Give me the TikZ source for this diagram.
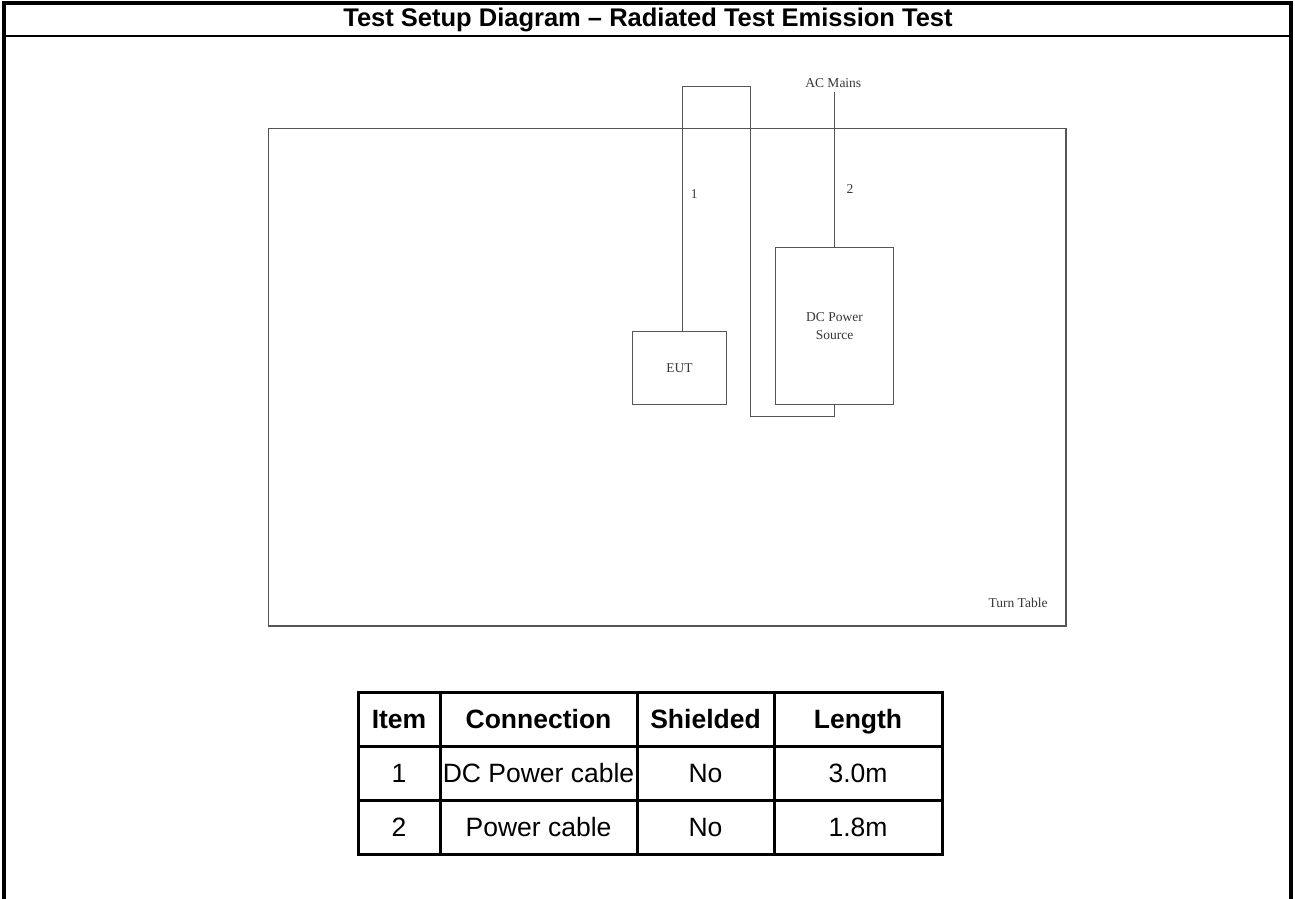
\documentclass[tikz,border=0pt]{standalone}
\usepackage{fontspec}
\setmainfont{Liberation Sans}
\newfontfamily\diagfont{Liberation Serif}
\definecolor{wirecol}{RGB}{85,85,85}
\definecolor{textcol}{RGB}{55,55,55}
\begin{document}
\begin{tikzpicture}[x=1pt,y=-1pt,
  frameline/.style={line width=3.5pt},
  sepline/.style={line width=2.5pt},
  wire/.style={draw=wirecol, line width=1.3pt},
  box/.style={draw=wirecol, line width=1.3pt, inner sep=0pt, align=center,
    font=\diagfont\fontsize{13.5}{17.7}\selectfont, text=textcol},
  dlabel/.style={inner sep=0pt, font=\diagfont\fontsize{13.5}{17.7}\selectfont, text=textcol},
  cell/.style={draw=black, line width=3pt, inner sep=0pt, minimum height=54pt,
    text height=19pt, text depth=0pt, font=\fontsize{26.5}{30}\selectfont},
  hcell/.style={cell, font=\bfseries\fontsize{26.5}{30}\selectfont}]
\useasboundingbox (0,0) rectangle (1295,899);
% outer frame and title band
\draw[frameline] (4,899) -- (4,3) -- (1291,3) -- (1291,899);
\draw[sepline] (4,36) -- (1291,36);
\node[font=\bfseries\fontsize{25.5}{30}\selectfont] (title) at (648,19.5)
  {Test Setup Diagram – Radiated Test Emission Test};
% turn table
\node[box, minimum width=797.5pt, minimum height=497.7pt] (tt) at (667.25,377.15) {};
\node[dlabel] (ttlabel) at (1018,603.3) {Turn Table};
% equipment
\node[box, minimum width=94.4pt, minimum height=72.6pt] (eut) at (679.5,368) {EUT};
\node[box, minimum width=117.6pt, minimum height=157pt] (dc) at (834.5,325.8) {DC Power\\Source};
% AC mains cable (2)
\node[dlabel] (ac) at (833.3,82.7) {AC Mains};
\coordinate (acend) at (834.5,91.7);
\draw[wire] (dc.north) -- (acend);
\node[dlabel] (lbl2) at (850,189) {2};
% DC power cable (1)
\coordinate (c1a) at (682.7,86.7);
\coordinate (c1b) at (750.7,86.7);
\coordinate (c1c) at (750.7,416.7);
\draw[wire] (eut.north -| c1a) -- (c1a) -- (c1b) -- (c1c) -- (c1c -| dc.south) -- (dc.south);
\node[dlabel] (lbl1) at (694.3,194) {1};
% table
\node[hcell, minimum width=82pt]  (h1) at (399,719) {Item};
\node[hcell, minimum width=197pt] (h2) at (538.5,719) {Connection};
\node[hcell, minimum width=137pt] (h3) at (705.5,719) {Shielded};
\node[hcell, minimum width=168pt] (h4) at (858,719) {Length};
\node[cell, minimum width=82pt]  (a1) at (399,773) {1};
\node[cell, minimum width=197pt] (a2) at (538.5,773) {DC Power cable};
\node[cell, minimum width=137pt] (a3) at (705.5,773) {No};
\node[cell, minimum width=168pt] (a4) at (858,773) {3.0m};
\node[cell, minimum width=82pt]  (b1) at (399,827) {2};
\node[cell, minimum width=197pt] (b2) at (538.5,827) {Power cable};
\node[cell, minimum width=137pt] (b3) at (705.5,827) {No};
\node[cell, minimum width=168pt] (b4) at (858,827) {1.8m};
\end{tikzpicture}
\end{document}
